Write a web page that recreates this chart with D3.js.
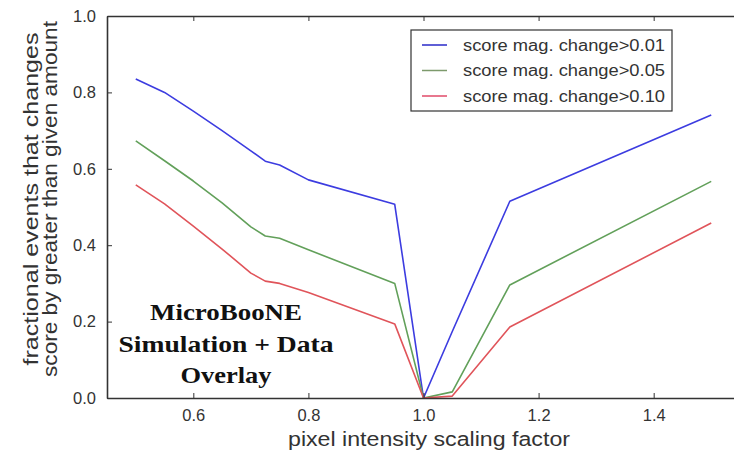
<!DOCTYPE html>
<html>
<head>
<meta charset="utf-8">
<script src="https://cdn.jsdelivr.net/npm/d3@7"></script>
<style>
  html, body { margin: 0; padding: 0; background: #fff; }
  svg { display: block; }
</style>
</head>
<body>
<script>
// ---- data ----
const xValues   = [0.50, 0.55, 0.60, 0.65, 0.70, 0.725, 0.75, 0.80, 0.95, 1.00, 1.05, 1.15, 1.50];
const blueVals  = [0.835, 0.800, 0.751, 0.700, 0.647, 0.620, 0.610, 0.571, 0.507, 0.000, 0.174, 0.515, 0.741];
const greenVals = [0.673, 0.621, 0.568, 0.511, 0.448, 0.424, 0.418, 0.388, 0.300, 0.000, 0.016, 0.296, 0.567];
const redVals   = [0.558, 0.508, 0.450, 0.390, 0.327, 0.306, 0.300, 0.276, 0.194, 0.000, 0.005, 0.186, 0.458];
const seriesNames = ["score mag. change>0.01", "score mag. change>0.05", "score mag. change>0.10"];
const xTicks = [0.6, 0.8, 1.0, 1.2, 1.4];
const yTicks = [0.0, 0.2, 0.4, 0.6, 0.8, 1.0];
const xLabel = "pixel intensity scaling factor";
const yLabelLines = ["fractional events that changes", "score by greater than given amount"];
const annotationLines = ["MicroBooNE", "Simulation + Data", "Overlay"];

const W = 734, H = 459;
const plot = { left: 107, right: 740, top: 16, bottom: 398 };

const svg = d3.select("body").append("svg").attr("width", W).attr("height", H);

const x = d3.scaleLinear().domain([0.45, 1.55]).range([plot.left, plot.right]);
const y = d3.scaleLinear().domain([0, 1]).range([plot.bottom, plot.top]);

const series = [
  { name: seriesNames[0], vals: blueVals,  color: "#3c3ce0", legendColor: "#2a2ac8" },
  { name: seriesNames[1], vals: greenVals, color: "#62a05a", legendColor: "#7d9a6c" },
  { name: seriesNames[2], vals: redVals,   color: "#e0545a", legendColor: "#e04a68" }
];

svg.append("clipPath").attr("id", "clip")
  .append("rect").attr("x", plot.left).attr("y", plot.top)
  .attr("width", plot.right - plot.left).attr("height", plot.bottom - plot.top);

const line = d3.line().x(d => x(d[0])).y(d => y(d[1]));
const g = svg.append("g").attr("clip-path", "url(#clip)");
series.forEach(s => {
  g.append("path")
    .datum(xValues.map((xv, i) => [xv, s.vals[i]]))
    .attr("d", line)
    .attr("fill", "none")
    .attr("stroke", s.color)
    .attr("stroke-width", 1.6)
    .attr("stroke-linejoin", "round");
});

// ---- axes (matplotlib style: ticks inside, frame all round) ----
const fmt = d3.format(".1f");
const axisColor = "#333";
const tickFont = "'Liberation Sans', Arial, sans-serif";

const bottomAxis = svg.append("g").attr("transform", `translate(0,${plot.bottom})`)
  .call(d3.axisBottom(x).tickValues(xTicks).tickFormat(fmt).tickSizeInner(-5).tickSizeOuter(0).tickPadding(11));
const topAxis = svg.append("g").attr("transform", `translate(0,${plot.top})`)
  .call(d3.axisTop(x).tickValues(xTicks).tickFormat("").tickSizeInner(-5).tickSizeOuter(0));
const leftAxis = svg.append("g").attr("transform", `translate(${plot.left},0)`)
  .call(d3.axisLeft(y).tickValues(yTicks).tickFormat(fmt).tickSizeInner(-5).tickSizeOuter(0).tickPadding(11));
const rightAxis = svg.append("g").attr("transform", `translate(${plot.right},0)`)
  .call(d3.axisRight(y).tickValues(yTicks).tickFormat("").tickSizeInner(-5).tickSizeOuter(0));

[bottomAxis, topAxis, leftAxis, rightAxis].forEach(a => {
  a.select(".domain").attr("stroke", axisColor).attr("stroke-width", 1.6);
  a.selectAll(".tick line").attr("stroke", axisColor).attr("stroke-width", 1);
  a.selectAll(".tick text").attr("fill", "#333").style("font-family", tickFont).style("font-size", "16.5px");
});

// ---- axis labels ----
svg.append("text")
  .attr("x", 429).attr("y", 446)
  .attr("text-anchor", "middle")
  .attr("textLength", 282).attr("lengthAdjust", "spacingAndGlyphs")
  .style("font-family", tickFont).style("font-size", "19.5px").attr("fill", "#333")
  .text(xLabel);

const yl = [{ cx: 38, len: 333 }, { cx: 57, len: 356 }];
yLabelLines.forEach((t, i) => {
  svg.append("text")
    .attr("transform", `translate(${yl[i].cx},199) rotate(-90)`)
    .attr("text-anchor", "middle")
    .attr("textLength", yl[i].len).attr("lengthAdjust", "spacingAndGlyphs")
    .style("font-family", tickFont).style("font-size", "20px").attr("fill", "#333")
    .text(t);
});

// ---- legend ----
const lg = svg.append("g");
lg.append("rect").attr("x", 411).attr("y", 30).attr("width", 261).attr("height", 81)
  .attr("fill", "#fff").attr("stroke", "#333").attr("stroke-width", 1.2);
series.forEach((s, i) => {
  const ry = 45 + i * 25.5;
  lg.append("line").attr("x1", 422).attr("x2", 447).attr("y1", ry).attr("y2", ry)
    .attr("stroke", s.legendColor).attr("stroke-width", 1.5);
  lg.append("text").attr("x", 463).attr("y", ry + 5.5)
    .attr("textLength", 202).attr("lengthAdjust", "spacingAndGlyphs")
    .style("font-family", tickFont).style("font-size", "16px").attr("fill", "#333")
    .text(s.name);
});

// ---- annotation ----
const ann = [{ y: 320, len: 152 }, { y: 352, len: 215 }, { y: 383, len: 91 }];
annotationLines.forEach((t, i) => {
  svg.append("text")
    .attr("x", 226).attr("y", ann[i].y)
    .attr("text-anchor", "middle")
    .attr("textLength", ann[i].len).attr("lengthAdjust", "spacingAndGlyphs")
    .style("font-family", "'Liberation Serif', 'Times New Roman', serif")
    .style("font-weight", "bold").style("font-size", "24px").attr("fill", "#111")
    .text(t);
});
</script>
</body>
</html>
